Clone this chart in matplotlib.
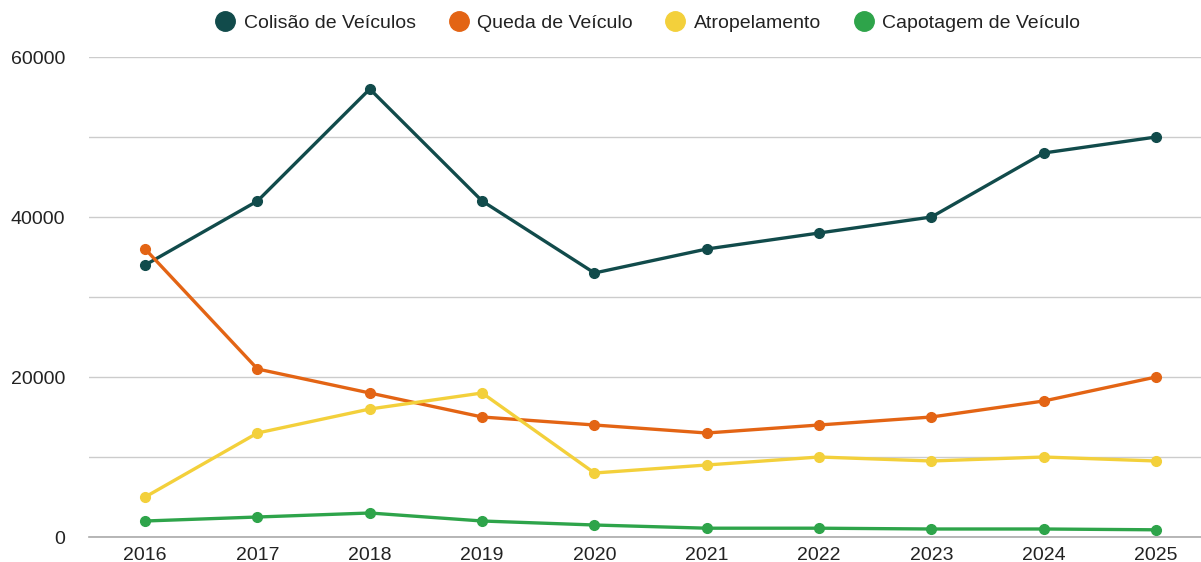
import matplotlib
matplotlib.use('Agg')
import matplotlib.pyplot as plt
from matplotlib.lines import Line2D
from matplotlib.ticker import MultipleLocator, FuncFormatter

plt.rcParams['font.family'] = ['Liberation Sans', 'DejaVu Sans']

anos = ['2016', '2017', '2018', '2019', '2020', '2021', '2022', '2023', '2024', '2025']
colisao = [34000, 42000, 56000, 42000, 33000, 36000, 38000, 40000, 48000, 50000]
queda = [36000, 21000, 18000, 15000, 14000, 13000, 14000, 15000, 17000, 20000]
atropelamento = [5000, 13000, 16000, 18000, 8000, 9000, 10000, 9500, 10000, 9500]
capotagem = [2000, 2500, 3000, 2000, 1500, 1100, 1100, 1000, 1000, 900]

series = [
    ('Colisão de Veículos', colisao, '#114b4b'),
    ('Queda de Veículo', queda, '#e36414'),
    ('Atropelamento', atropelamento, '#f3d03b'),
    ('Capotagem de Veículo', capotagem, '#2ea44a'),
]

fig = plt.figure(figsize=(12.01, 5.62), dpi=100)
# o grafico original passa um pouco da borda direita
ax = fig.add_axes([89 / 1201, 1 - 537 / 562, 1112 / 1201, 480 / 562])

x = range(len(anos))
handles = []
for nome, vals, cor in series:
    ax.plot(x, vals, color=cor, lw=2.4, marker='o', ms=7, zorder=3, solid_capstyle='round')
    handles.append(Line2D([], [], ls='none', marker='o', ms=14, color=cor, label=nome))

ax.set_xlim(-0.5, 9.4)
ax.set_ylim(0, 60000)
ax.set_xticks(list(x))
ax.set_xticklabels(anos)
ax.yaxis.set_major_locator(MultipleLocator(10000))
ax.yaxis.set_major_formatter(FuncFormatter(lambda v, p: f'{int(v)}' if int(v) % 20000 == 0 else ''))
ax.grid(axis='y', color='#cccccc', lw=1)
ax.set_axisbelow(True)
for s in ['top', 'right', 'left']:
    ax.spines[s].set_visible(False)
ax.spines['bottom'].set_color('#aaaaaa')
ax.spines['bottom'].set_linewidth(1.2)
ax.tick_params(axis='both', length=0, labelsize=14, labelcolor='#222222')
ax.tick_params(axis='y', pad=17)
ax.tick_params(axis='x', pad=7)

fig.legend(handles=handles, loc='upper center', bbox_to_anchor=(0.5395, 1.006), ncol=4,
           frameon=False, fontsize=14, handlelength=1.0, handletextpad=0.45,
           columnspacing=1.7, labelcolor='#222222')

fig.savefig('out.png', dpi=100)
